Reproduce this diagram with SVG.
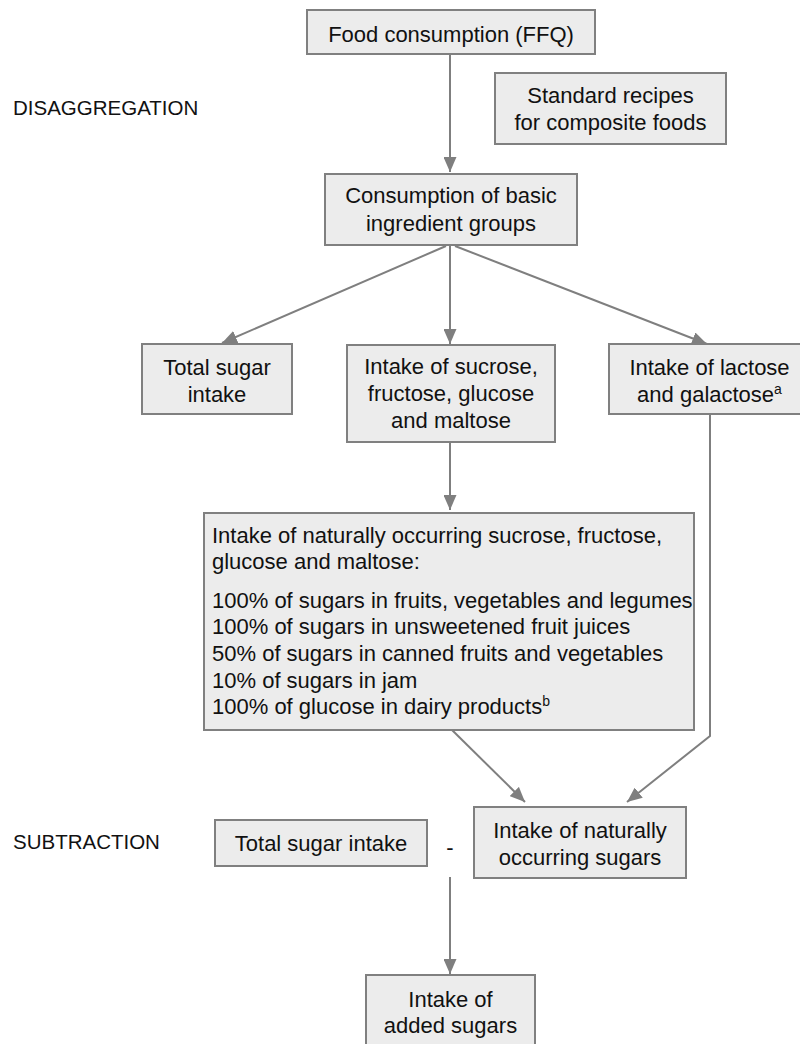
<svg xmlns="http://www.w3.org/2000/svg" width="800" height="1044" viewBox="0 0 800 1044">
<style>
.box{fill:#ececec;stroke:#808080;stroke-width:2}
.t{font-family:"Liberation Sans",Arial,sans-serif;font-size:22px;fill:#111;text-anchor:middle}
.tl{font-family:"Liberation Sans",Arial,sans-serif;font-size:22px;fill:#111}
.lbl{font-family:"Liberation Sans",Arial,sans-serif;font-size:20.5px;fill:#111}
.c{fill:none;stroke:#7f7f7f;stroke-width:2}
.sup{font-size:14px}
</style>
<defs>
<marker id="ah" viewBox="0 0 15 13" refX="15" refY="6.5" markerWidth="15" markerHeight="13" markerUnits="userSpaceOnUse" orient="auto">
<path d="M0,0 L15,6.5 L0,13 Z" fill="#7f7f7f"/>
</marker>
</defs>
<rect width="800" height="1044" fill="#fff"/>
<text class="lbl" x="13" y="115">DISAGGREGATION</text>
<text class="lbl" x="13" y="849">SUBTRACTION</text>
<g id="connectors">
<line class="c" x1="450" y1="54" x2="450" y2="172" marker-end="url(#ah)"/>
<line class="c" x1="446" y1="246" x2="222" y2="343" marker-end="url(#ah)"/>
<line class="c" x1="450" y1="246" x2="450" y2="344" marker-end="url(#ah)"/>
<line class="c" x1="455" y1="246" x2="707" y2="344" marker-end="url(#ah)"/>
<line class="c" x1="450" y1="442" x2="450" y2="510" marker-end="url(#ah)"/>
<line class="c" x1="452" y1="730" x2="525" y2="802" marker-end="url(#ah)"/>
<polyline class="c" points="710,414 710,736 627,802" marker-end="url(#ah)"/>
<line class="c" x1="450" y1="877" x2="450" y2="974" marker-end="url(#ah)"/>
</g>
<g id="food">
<rect class="box" x="307" y="10" width="288" height="44"/>
<text class="t" x="451" y="42">Food consumption (FFQ)</text>
</g>
<g id="recipes">
<rect class="box" x="495" y="73" width="231" height="71"/>
<text class="t" x="610.5" y="103">Standard recipes</text>
<text class="t" x="610.5" y="130">for composite foods</text>
</g>
<g id="basic">
<rect class="box" x="325" y="174" width="252" height="71"/>
<text class="t" x="451" y="203">Consumption of basic</text>
<text class="t" x="451" y="231">ingredient groups</text>
</g>
<g id="total1">
<rect class="box" x="142" y="344" width="150" height="70"/>
<text class="t" x="217" y="375">Total sugar</text>
<text class="t" x="217" y="402">intake</text>
</g>
<g id="sucrose">
<rect class="box" x="347" y="345" width="208" height="97"/>
<text class="t" x="451" y="374">Intake of sucrose,</text>
<text class="t" x="451" y="401">fructose, glucose</text>
<text class="t" x="451" y="428">and maltose</text>
</g>
<g id="lactose">
<rect class="box" x="609" y="344" width="202" height="70"/>
<text class="t" x="709.5" y="375">Intake of lactose</text>
<text class="t" x="709.5" y="402">and galactose<tspan class="sup" dy="-8">a</tspan></text>
</g>
<g id="natural-list">
<rect class="box" x="204" y="513" width="490" height="217"/>
<text class="tl" x="212" y="543">Intake of naturally occurring sucrose, fructose,</text>
<text class="tl" x="212" y="569">glucose and maltose:</text>
<text class="tl" x="212" y="608">100% of sugars in fruits, vegetables and legumes</text>
<text class="tl" x="212" y="634">100% of sugars in unsweetened fruit juices</text>
<text class="tl" x="212" y="661">50% of sugars in canned fruits and vegetables</text>
<text class="tl" x="212" y="688">10% of sugars in jam</text>
<text class="tl" x="212" y="714">100% of glucose in dairy products<tspan class="sup" dy="-8">b</tspan></text>
</g>
<g id="total2">
<rect class="box" x="215" y="820" width="212" height="46"/>
<text class="t" x="321" y="851">Total sugar intake</text>
</g>
<text class="t" x="450" y="855">-</text>
<g id="natural">
<rect class="box" x="474" y="807" width="212" height="71"/>
<text class="t" x="580" y="838">Intake of naturally</text>
<text class="t" x="580" y="865">occurring sugars</text>
</g>
<g id="added">
<rect class="box" x="366" y="975" width="169" height="80"/>
<text class="t" x="450.5" y="1007">Intake of</text>
<text class="t" x="450.5" y="1033">added sugars</text>
</g>
</svg>
